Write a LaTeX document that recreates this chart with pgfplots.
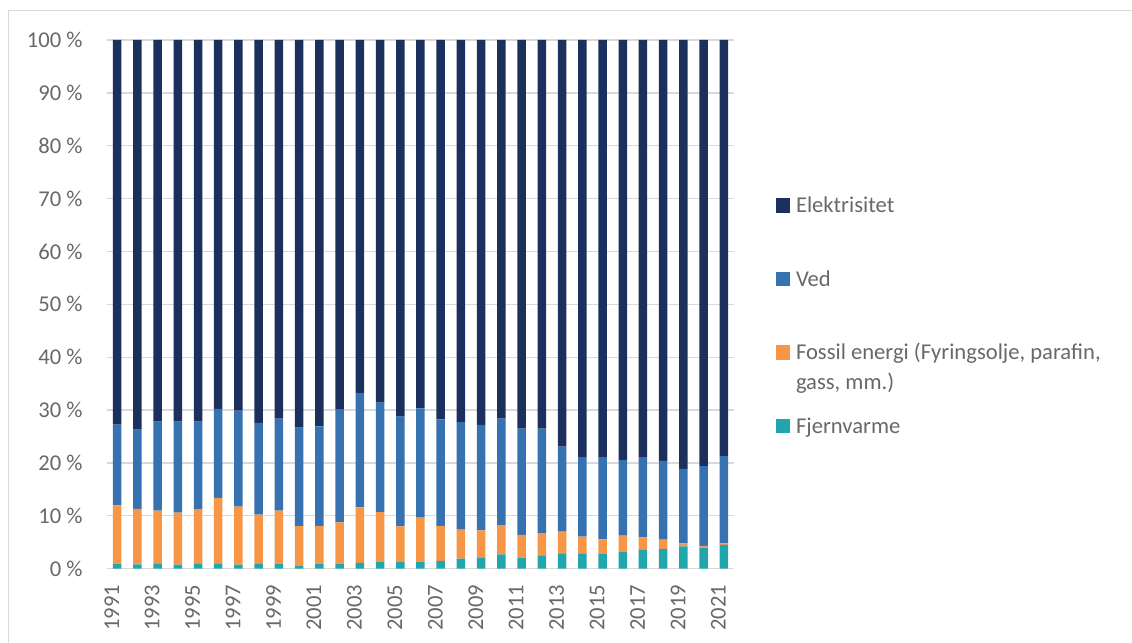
\documentclass[border=0pt]{standalone}
\usepackage{pgfplots}
\usepackage{pgfplotstable}
\pgfplotsset{compat=1.18}
\usepackage{fontspec}
\setmainfont{Carlito}
\definecolor{elcol}{HTML}{1B305D}
\definecolor{vedcol}{HTML}{3772B0}
\definecolor{focol}{HTML}{F79646}
\definecolor{fjcol}{HTML}{22A6AE}
\definecolor{txtgray}{HTML}{686868}
\definecolor{gridgray}{HTML}{D9D9D9}
\pgfplotstableread{
year fj fo ved el
1991 0.94 11.06 15.25 72.75
1992 0.80 10.50 15.00 73.70
1993 0.90 10.10 16.80 72.20
1994 0.75 9.85 17.20 72.20
1995 0.90 10.35 16.55 72.20
1996 0.90 12.50 16.85 69.75
1997 0.75 11.00 18.15 70.10
1998 0.90 9.35 17.35 72.40
1999 0.94 10.06 17.40 71.60
2000 0.60 7.46 18.64 73.30
2001 0.94 7.16 18.80 73.10
2002 0.94 7.81 21.35 69.90
2003 1.10 10.50 21.65 66.75
2004 1.25 9.45 20.70 68.60
2005 1.25 6.75 20.75 71.25
2006 1.35 8.30 20.65 69.70
2007 1.50 6.60 20.15 71.75
2008 1.90 5.50 20.30 72.30
2009 2.06 5.19 19.95 72.80
2010 2.70 5.55 20.15 71.60
2011 2.10 4.30 20.10 73.50
2012 2.50 4.25 19.75 73.50
2013 2.90 4.10 16.10 76.90
2014 2.90 3.16 15.04 78.90
2015 2.80 2.76 15.54 78.90
2016 3.25 3.00 14.35 79.40
2017 3.56 2.38 15.16 78.90
2018 3.75 1.75 14.90 79.60
2019 4.20 0.60 14.10 81.10
2020 3.90 0.40 15.10 80.60
2021 4.50 0.30 16.50 78.70
}\datatable
\pgfplotsset{sqlegend/.style={legend image code/.code={\fill[##1] (0pt,-3.65pt) rectangle (7pt,3.65pt);}}}
\begin{document}
\begin{tikzpicture}
\fontsize{11.3}{15}\selectfont
\begin{axis}[
  at={(53.5pt,37.15pt)}, anchor=south west,
  scale only axis, width=313.5pt, height=264.35pt,
  ybar stacked, bar width=4.25pt,
  xmin=1990.5, xmax=2021.5,
  ymin=0, ymax=100,
  xtick={1991,1993,...,2021},
  ytick={0,10,...,100},
  ymajorgrids, grid style={gridgray, line width=0.65pt},
  axis line style={draw=none},
  major tick length=0pt,
  tick label style={font=\fontsize{11.3}{13}\selectfont, text=txtgray},
  /pgf/number format/assume math mode=true,
  xticklabel style={rotate=90, anchor=east, inner sep=0pt, yshift=2.7pt, /pgf/number format/1000 sep={}},
  xticklabel shift=8pt,
  yticklabel style={anchor=east, inner sep=0pt, xshift=-12pt},
  yticklabel={\pgfmathprintnumber{\tick} \%},
  reverse legend,
  legend cell align=left,
  legend style={draw=none, fill=none, at={(axis description cs:1.067,0.7006)}, anchor=north west,
    inner sep=0pt, outer sep=0pt, row sep=29.45pt, column sep=3pt,
    nodes={inner sep=0pt, text height=7.3pt, text depth=0pt, text=txtgray, font=\fontsize{11.3}{15}\selectfont}},
]
\addplot[fill=fjcol, draw=none, sqlegend] table[x=year, y=fj] {\datatable};
\addlegendentry{Fjernvarme}
\addplot[fill=focol, draw=none, sqlegend] table[x=year, y=fo] {\datatable};
\addlegendentry{\smash{\begin{tabular}[t]{@{}l@{}}Fossil energi (Fyringsolje, parafin,\\gass, mm.)\end{tabular}}}
\addplot[fill=vedcol, draw=none, sqlegend] table[x=year, y=ved] {\datatable};
\addlegendentry{Ved}
\addplot[fill=elcol, draw=none, sqlegend] table[x=year, y=el] {\datatable};
\addlegendentry{Elektrisitet}
\end{axis}
\draw[gridgray, line width=0.7pt] (4.15pt,0pt) -- (4.15pt,316.25pt) -- (566pt,316.25pt);
\pgfresetboundingbox
\useasboundingbox (0,0) rectangle (566pt,321.5pt);
\end{tikzpicture}
\end{document}
